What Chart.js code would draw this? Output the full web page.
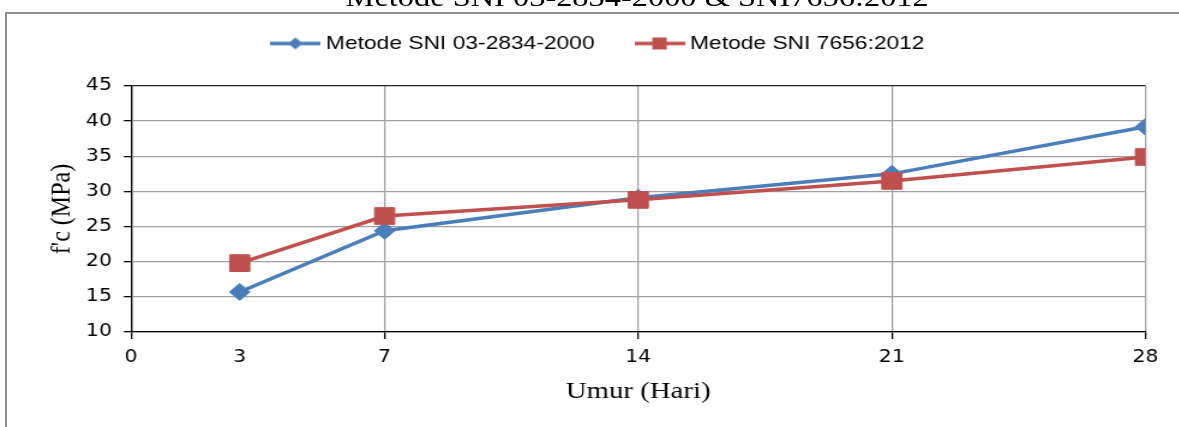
<!DOCTYPE html>
<html>
<head>
<meta charset="utf-8">
<script src="https://cdn.jsdelivr.net/npm/chart.js@4.4.1/dist/chart.umd.min.js"></script>
<style>
  html, body { margin: 0; padding: 0; background: #fff; overflow: hidden; }
  #frame { position: absolute; left: 5px; top: 12px; width: 1300px; height: 600px; border: 2px solid #8e8e8e; box-sizing: border-box; }
  #wrap { position: absolute; left: 0; top: 0; width: 982px; height: 427px; transform: scaleX(1.2); transform-origin: 0 0; }
  #title { position: absolute; left: 0; top: -16px; width: 1062px; text-align: center; font: 27px/27px "Liberation Serif", serif; color: #000; white-space: nowrap; }
</style>
</head>
<body>
<div id="frame"></div>
<div id="wrap">
  <div id="title">Metode SNI 03-2834-2000 &amp; SNI7656:2012</div>
  <canvas id="lineChart"></canvas>
</div>
<script>
// umur benda uji (hari) dan kuat tekan f'c (MPa)
const days = [3, 7, 14, 21, 28];
const sni2834 = [15.7, 24.4, 29.1, 32.5, 39.2];
const sni7656 = [19.8, 26.5, 28.8, 31.5, 34.9];
const xTicks = [0, 3, 7, 14, 21, 28];
const seriesNames = ['Metode SNI 03-2834-2000', 'Metode SNI 7656:2012'];

const blue = '#4a7ebb';
const red = '#c0504d';

// legend icon: line with marker, like excel
function legendIcon(color, shape) {
    const c = document.createElement('canvas');
    c.width = 42;
    c.height = 18;
    const g = c.getContext('2d');
    g.strokeStyle = color;
    g.lineWidth = 3.5;
    g.beginPath();
    g.moveTo(0, 9);
    g.lineTo(42, 9);
    g.stroke();
    g.fillStyle = color;
    if (shape === 'diamond') {
        g.beginPath();
        g.moveTo(21, 3);
        g.lineTo(27, 9);
        g.lineTo(21, 15);
        g.lineTo(15, 9);
        g.closePath();
        g.fill();
    } else {
        g.fillRect(15, 3, 12, 12);
    }
    return c;
}
const icons = [legendIcon(blue, 'diamond'), legendIcon(red, 'square')];

// make room under the legend
const legendSpace = {
    id: 'legendSpace',
    beforeInit(chart) {
        const fit = chart.legend.fit;
        chart.legend.fit = function () {
            fit.call(this);
            this.height = 90;
            this.lineWidths[0] -= 46;
        };
    }
};

const ctxLine = document.getElementById('lineChart');

new Chart(ctxLine, {
    type: 'line',
    data: {
        datasets: [{
            label: seriesNames[0],
            data: days.map((d, i) => ({ x: d, y: sni2834[i] })),
            borderColor: blue,
            backgroundColor: blue,
            borderWidth: 3.5,
            pointStyle: 'rectRot',
            pointRadius: 8.5,
            pointBorderWidth: 1,
            tension: 0,
            order: 1
        }, {
            label: seriesNames[1],
            data: days.map((d, i) => ({ x: d, y: sni7656[i] })),
            borderColor: red,
            backgroundColor: red,
            borderWidth: 3.5,
            pointStyle: 'rect',
            pointRadius: 11.8,
            pointBorderWidth: 1,
            tension: 0,
            order: 0
        }]
    },
    options: {
        responsive: true,
        maintainAspectRatio: false,
        animation: false,
        layout: { padding: { top: -4, left: 0, right: 27.5, bottom: 0 } },
        plugins: {
            tooltip: { enabled: false },
            legend: {
                display: true,
                position: 'top',
                labels: {
                    usePointStyle: true,
                    pointStyleWidth: 32,
                    padding: 38,
                    color: '#000',
                    font: { family: 'Liberation Sans', size: 19 },
                    generateLabels(chart) {
                        return chart.data.datasets.map((ds, i) => ({
                            text: ds.label,
                            pointStyle: icons[i],
                            fillStyle: ds.backgroundColor,
                            strokeStyle: ds.borderColor,
                            lineWidth: 0,
                            hidden: false,
                            datasetIndex: i
                        }));
                    }
                }
            }
        },
        scales: {
            x: {
                type: 'linear',
                min: 0,
                max: 28,
                afterBuildTicks(scale) {
                    scale.ticks = xTicks.map(v => ({ value: v }));
                },
                afterFit(scale) { scale.height = 95; },
                grid: {
                    color: c => c.tick && c.tick.value === 3 ? 'rgba(0,0,0,0)' : '#a0a0a0',
                    tickColor: c => c.tick && c.tick.value === 3 ? 'rgba(0,0,0,0)' : '#000',
                    lineWidth: 1.3,
                    tickLength: 7
                },
                border: { color: '#000', width: 1.3 },
                ticks: {
                    color: '#000',
                    padding: 8,
                    maxRotation: 0,
                    autoSkip: false,
                    font: { family: 'DejaVu Sans', size: 17 }
                },
                title: {
                    display: true,
                    text: 'Umur (Hari)',
                    color: '#000',
                    font: { family: 'Liberation Serif', size: 24 },
                    padding: { top: 0, bottom: 20.6 }
                }
            },
            y: {
                min: 10,
                max: 45,
                afterFit(scale) { scale.width = 109.2; },
                grid: {
                    color: c => c.tick && c.tick.value === 45 ? '#222' : '#a0a0a0',
                    tickColor: '#000',
                    lineWidth: 1.3,
                    tickLength: 6
                },
                border: { color: '#000', width: 1.3 },
                ticks: {
                    stepSize: 5,
                    color: '#000',
                    padding: 10,
                    font: { family: 'DejaVu Sans', size: 17 }
                },
                title: {
                    display: true,
                    text: "f'c (MPa)",
                    color: '#000',
                    font: { family: 'Liberation Serif', size: 24 },
                    padding: { top: 37.3, bottom: 0 }
                }
            }
        }
    },
    plugins: [legendSpace]
});
</script>
</body>
</html>
